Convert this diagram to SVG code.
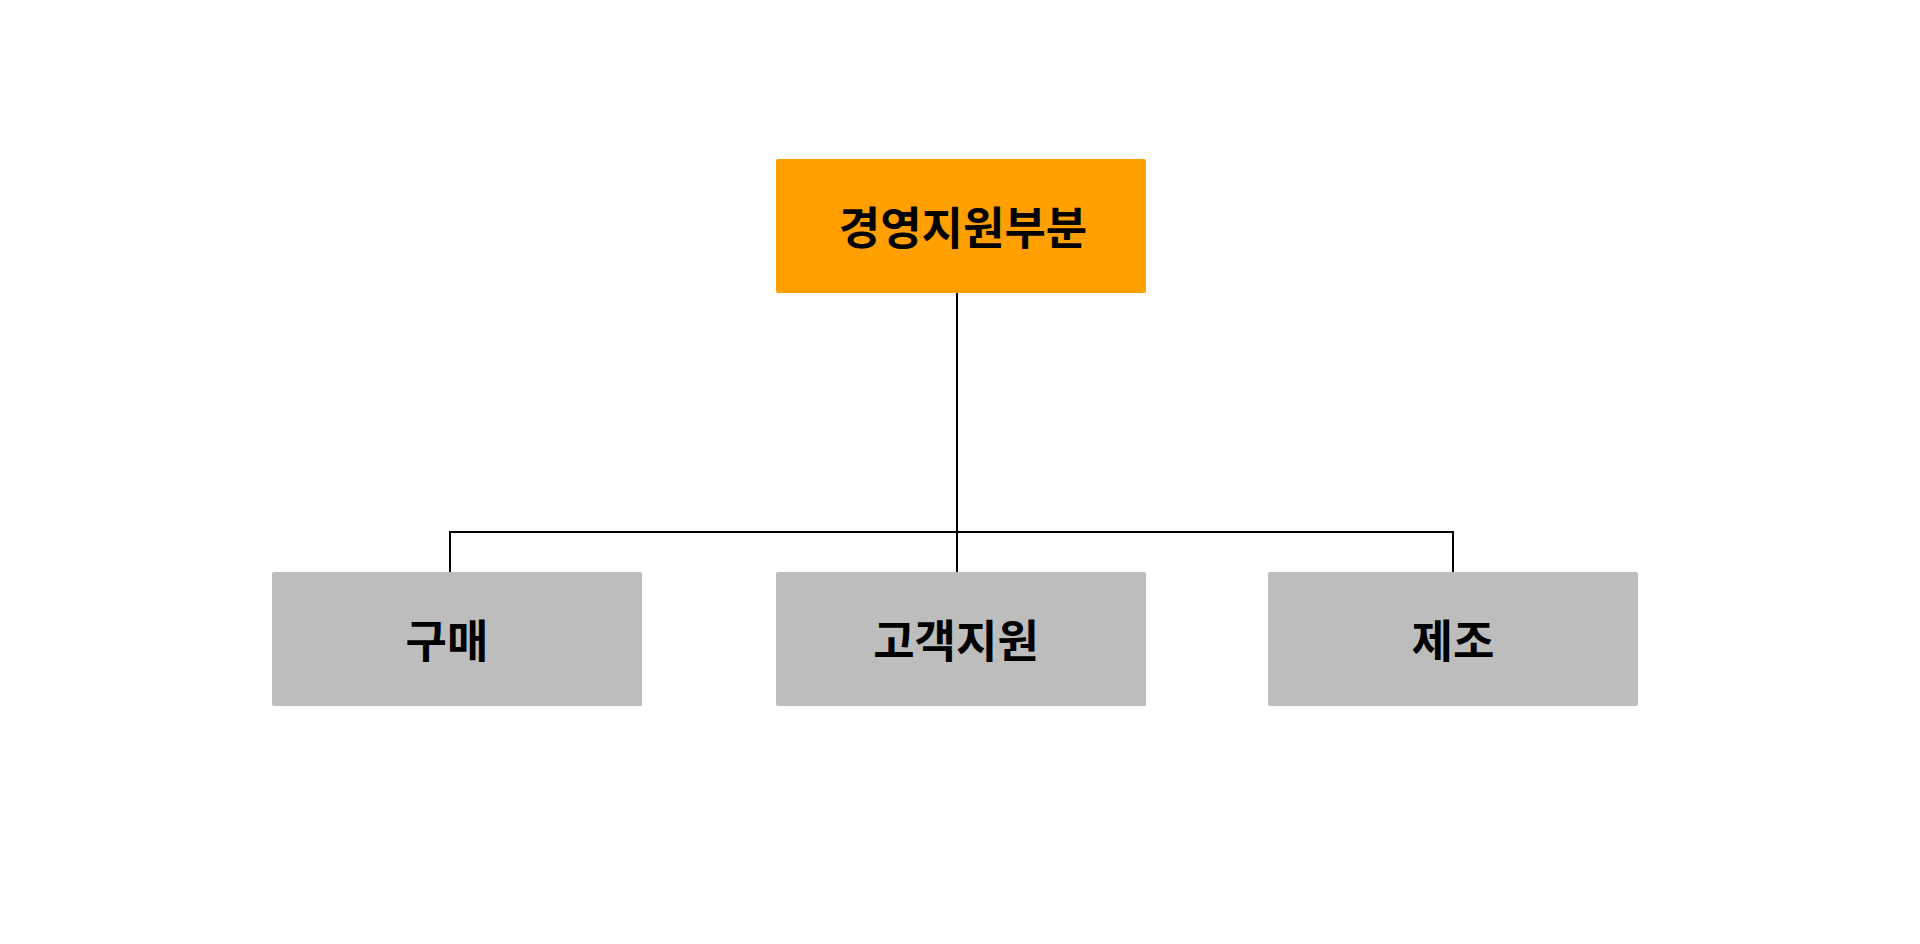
<svg xmlns="http://www.w3.org/2000/svg" width="1920" height="944" viewBox="0 0 1920 944">
<style>
.top{fill:#ffa000}
.sub{fill:#bdbdbd}
.lbl{font-family:"Noto Sans CJK KR","Noto Sans",sans-serif;font-weight:bold;font-size:45px;fill:#000;text-anchor:middle;dominant-baseline:central}
.conn{fill:none;stroke:#000;stroke-width:2}
</style>
<rect width="1920" height="944" fill="#fff"/>
<g id="connectors">
<path class="conn" d="M957 293V572"/>
<path class="conn" d="M450 572V532H1453V572"/>
</g>
<g id="n-top"><rect class="top" x="776" y="159" width="370" height="134" rx="2"/><text class="lbl" x="963" y="225">경영지원부분</text></g>
<g id="n-buy"><rect class="sub" x="272" y="572" width="370" height="134" rx="2"/><text class="lbl" x="447" y="638">구매</text></g>
<g id="n-cs"><rect class="sub" x="776" y="572" width="370" height="134" rx="2"/><text class="lbl" x="956" y="638">고객지원</text></g>
<g id="n-mfg"><rect class="sub" x="1268" y="572" width="370" height="134" rx="2"/><text class="lbl" x="1453" y="638">제조</text></g>
</svg>
